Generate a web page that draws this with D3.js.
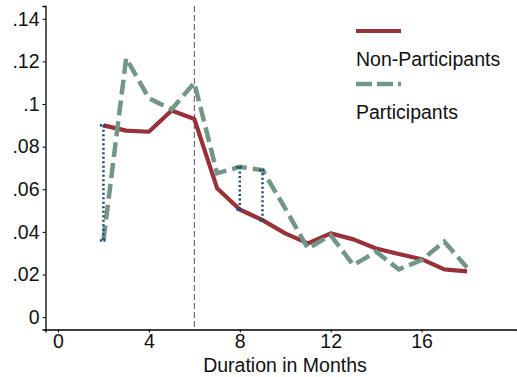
<!DOCTYPE html>
<html>
<head>
<meta charset="utf-8">
<script src="https://cdn.jsdelivr.net/npm/d3@7"></script>
<style>
  html, body { margin: 0; padding: 0; background: #fff; }
  svg { display: block; font-family: "Liberation Sans", Arial, sans-serif; }
</style>
</head>
<body>
<div id="chart"></div>
<script>
// Hazard of exit by duration for the two groups
const months = [2, 3, 4, 5, 6, 7, 8, 9, 10, 11, 12, 13, 14, 15, 16, 17, 18];
const nonParticipants = [0.090, 0.0875, 0.087, 0.097, 0.093, 0.0605, 0.0505, 0.0455, 0.0393, 0.0346, 0.0393, 0.0365, 0.0322, 0.0296, 0.0272, 0.0224, 0.0215];
const participants = [0.036, 0.1215, 0.1027, 0.0975, 0.110, 0.0675, 0.0705, 0.069, 0.051, 0.0322, 0.0385, 0.0244, 0.0307, 0.0224, 0.0268, 0.0354, 0.0233];
// Months where the gap between the groups is highlighted
const gapMonths = [2, 8, 9];
const xTicks = [0, 4, 8, 12, 16];
const yTicks = [0, 0.02, 0.04, 0.06, 0.08, 0.10, 0.12, 0.14];
const yTickLabels = ["0", ".02", ".04", ".06", ".08", ".1", ".12", ".14"];
const cutoffMonth = 6;
const seriesNames = ["Non-Participants", "Participants"];

const W = 517, H = 377;
const FS = "19.5px";
const red = "#983238", green = "#739786", navy = "#1e4a7a";

const svg = d3.select("#chart").append("svg").attr("width", W).attr("height", H);

const x = d3.scaleLinear().domain([-0.55, 20.2]).range([45.5, 517]);
const y = d3.scaleLinear().domain([-0.0058, 0.146]).range([329.5, 6]);

// axes
const xAxis = svg.append("g").attr("transform", `translate(0,${y(-0.0058)})`)
  .call(d3.axisBottom(x).tickValues(xTicks).tickSize(3).tickPadding(2).tickFormat(d3.format("d")));
const yAxis = svg.append("g").attr("transform", `translate(${x(-0.55)},0)`)
  .call(d3.axisLeft(y).tickValues(yTicks).tickSize(3).tickPadding(3)
    .tickFormat((d, i) => yTickLabels[i]));
[xAxis, yAxis].forEach(g => {
  g.select(".domain").attr("stroke", "#000").attr("stroke-width", 1.3);
  g.selectAll(".tick line").attr("stroke", "#000");
  g.selectAll(".tick text").attr("fill", "#111").style("font-size", FS)
    .style("font-family", "'Liberation Sans', Arial, sans-serif");
});

svg.append("text").attr("x", 285).attr("y", 372).attr("text-anchor", "middle")
  .style("font-size", FS).attr("fill", "#111").text("Duration in Months");

// cutoff line
svg.append("line")
  .attr("x1", x(cutoffMonth)).attr("x2", x(cutoffMonth))
  .attr("y1", y(0.146)).attr("y2", y(-0.0058))
  .attr("stroke", "#555").attr("stroke-width", 1).attr("stroke-dasharray", "6,3");

const line = d3.line().x(d => x(d[0])).y(d => y(d[1]));
const npData = months.map((m, i) => [m, nonParticipants[i]]);
const pData = months.map((m, i) => [m, participants[i]]);

svg.append("path").attr("d", line(npData)).attr("fill", "none")
  .attr("stroke", red).attr("stroke-width", 4.2).attr("stroke-linejoin", "round");
svg.append("path").attr("d", line(pData)).attr("fill", "none")
  .attr("stroke", green).attr("stroke-width", 4.5).attr("stroke-dasharray", "15,6");

// gap markers between the groups
const gaps = svg.append("g");
gapMonths.forEach(m => {
  const i = months.indexOf(m);
  const a = nonParticipants[i], b = participants[i];
  gaps.append("line").attr("x1", x(m)).attr("x2", x(m))
    .attr("y1", y(a)).attr("y2", y(b))
    .attr("stroke", navy).attr("stroke-width", 2.5).attr("stroke-dasharray", "2,2.5");
  [a, b].forEach(v => {
    gaps.append("line").attr("x1", x(m) - 3.5).attr("x2", x(m) + 3.5)
      .attr("y1", y(v)).attr("y2", y(v))
      .attr("stroke", navy).attr("stroke-width", 2.5).attr("stroke-dasharray", "2,1.5");
  });
});

// legend
const lg = svg.append("g").attr("transform", "translate(356,0)");
lg.append("line").attr("x1", 0).attr("x2", 45).attr("y1", 31).attr("y2", 31)
  .attr("stroke", red).attr("stroke-width", 4.2);
lg.append("text").attr("x", 0).attr("y", 66).style("font-size", FS).attr("fill", "#111").text(seriesNames[0]);
lg.append("line").attr("x1", 0).attr("x2", 45).attr("y1", 84).attr("y2", 84)
  .attr("stroke", green).attr("stroke-width", 4.5).attr("stroke-dasharray", "16,5");
lg.append("text").attr("x", 0).attr("y", 119).style("font-size", FS).attr("fill", "#111").text(seriesNames[1]);
</script>
</body>
</html>
